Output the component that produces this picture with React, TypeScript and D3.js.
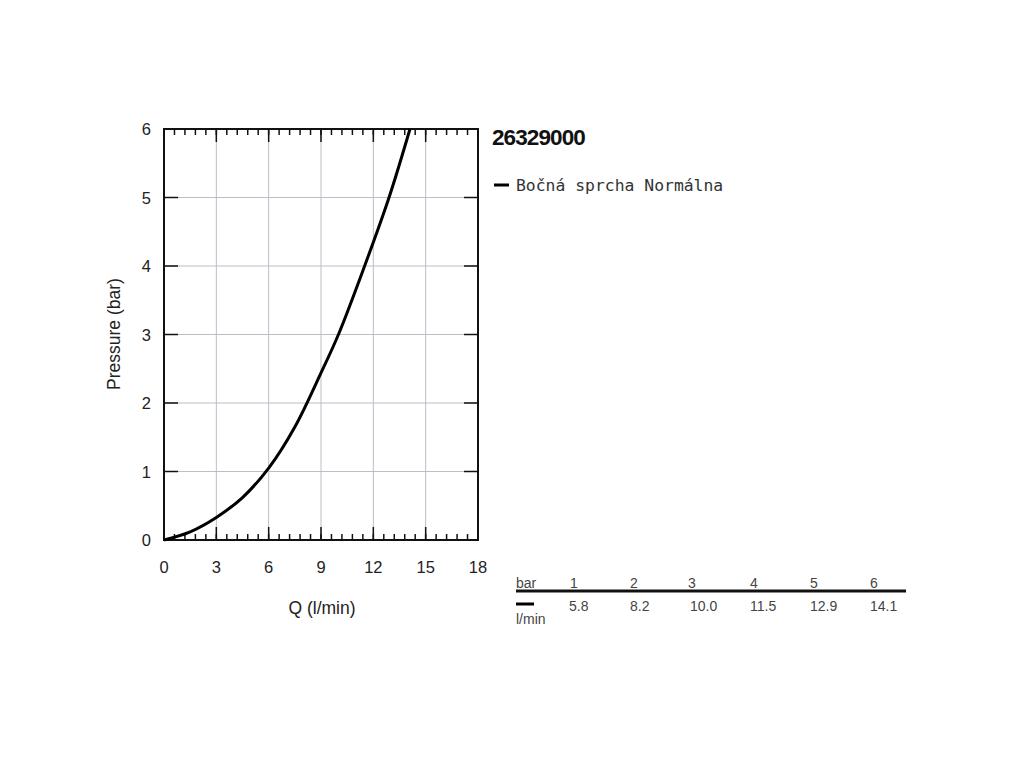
import React from "react";
import * as d3 from "d3";

const flowValues = [0, 1.5, 3, 4.5, 6, 7.5, 9, 10.0, 11.5, 12.9, 14.1];
const pressureValues = [0, 0.12, 0.33, 0.62, 1.05, 1.65, 2.44, 3, 4, 5, 6];
const xTicks = [0, 3, 6, 9, 12, 15, 18];
const yTicks = [0, 1, 2, 3, 4, 5, 6];
const tableBar = ["1", "2", "3", "4", "5", "6"];
const tableFlow = ["5.8", "8.2", "10.0", "11.5", "12.9", "14.1"];
const title = "26329000";
const seriesName = "Bočná sprcha Normálna";

export default function App() {
  const W = 1024, H = 768;
  const left = 164, right = 478, top = 129, bottom = 540;
  const x = d3.scaleLinear().domain([0, 18]).range([left, right]);
  const y = d3.scaleLinear().domain([0, 6]).range([bottom, top]);
  const minor = d3.range(0, 18.001, 0.6);
  const line = d3
    .line<number>()
    .x((d, i) => x(flowValues[i]))
    .y((d) => y(d))
    .curve(d3.curveCatmullRom.alpha(0.5));
  const colX = [570, 630, 688, 750, 810, 870];
  const colV = [569, 630, 690, 750, 810, 870];
  const font = "Liberation Sans, Arial, sans-serif";
  return (
    <svg width={W} height={H} style={{ position: "absolute", left: 0, top: 0 }}>
      <rect width={W} height={H} fill="#fff" />
      {xTicks.slice(1, -1).map((t) => (
        <line key={"gx" + t} x1={x(t)} x2={x(t)} y1={top} y2={bottom} stroke="#b8bec6" strokeWidth={1} />
      ))}
      {yTicks.slice(1, -1).map((t) => (
        <line key={"gy" + t} x1={left} x2={right} y1={y(t)} y2={y(t)} stroke="#b8bec6" strokeWidth={1} />
      ))}
      {minor.map((t, i) => (
        <g key={"m" + i}>
          <line x1={x(t)} x2={x(t)} y1={top} y2={top + 6} stroke="#111" strokeWidth={1.5} />
          <line x1={x(t)} x2={x(t)} y1={bottom} y2={bottom - 6} stroke="#111" strokeWidth={1.5} />
        </g>
      ))}
      {xTicks.map((t) => (
        <g key={"xt" + t}>
          <line x1={x(t)} x2={x(t)} y1={top} y2={top + 13} stroke="#111" strokeWidth={1.5} />
          <line x1={x(t)} x2={x(t)} y1={bottom} y2={bottom - 13} stroke="#111" strokeWidth={1.5} />
          <text x={x(t)} y={573} textAnchor="middle" fontFamily={font} fontSize={16.5} fill="#222">
            {t}
          </text>
        </g>
      ))}
      {yTicks.map((t) => (
        <g key={"yt" + t}>
          <line x1={left} x2={left + 14} y1={y(t)} y2={y(t)} stroke="#111" strokeWidth={1.5} />
          <line x1={right} x2={right - 14} y1={y(t)} y2={y(t)} stroke="#111" strokeWidth={1.5} />
          <text x={151} y={y(t) + 6} textAnchor="end" fontFamily={font} fontSize={16.5} fill="#222">
            {t}
          </text>
        </g>
      ))}
      <rect x={left} y={top} width={right - left} height={bottom - top} fill="none" stroke="#111" strokeWidth={2} />
      <path d={line(pressureValues) || ""} fill="none" stroke="#000" strokeWidth={3} />
      <text transform="translate(120,334) rotate(-90)" textAnchor="middle" fontFamily={font} fontSize={17.5} fill="#222">
        Pressure (bar)
      </text>
      <text x={322} y={614} textAnchor="middle" fontFamily={font} fontSize={17.5} fill="#222">
        Q (l/min)
      </text>
      <text x={492} y={145} fontFamily={font} fontWeight="bold" fontSize={22.5} letterSpacing={-0.9} fill="#111">
        {title}
      </text>
      <line x1={494} x2={509} y1={185} y2={185} stroke="#000" strokeWidth={3} />
      <text x={516} y={191} fontFamily="DejaVu Sans Mono, monospace" fontSize={16.4} fill="#333">
        {seriesName}
      </text>
      <text x={516} y={588} fontFamily={font} fontSize={14} fill="#444">bar</text>
      {tableBar.map((b, i) => (
        <text key={"b" + i} x={colX[i]} y={588} fontFamily={font} fontSize={14} fill="#444">
          {b}
        </text>
      ))}
      <line x1={516} x2={906} y1={591} y2={591} stroke="#111" strokeWidth={3} />
      <line x1={516} x2={534} y1={604} y2={604} stroke="#000" strokeWidth={3} />
      {tableFlow.map((v, i) => (
        <text key={"f" + i} x={colV[i]} y={611} fontFamily={font} fontSize={14} fill="#444">
          {v}
        </text>
      ))}
      <text x={516} y={624} fontFamily={font} fontSize={14} fill="#444">l/min</text>
    </svg>
  );
}
